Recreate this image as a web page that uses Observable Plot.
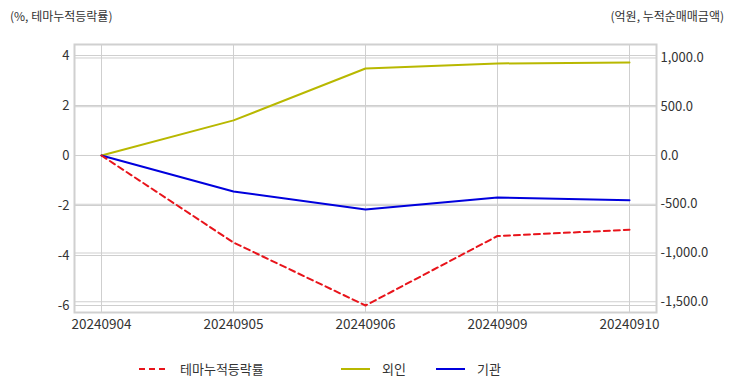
<!DOCTYPE html>
<html><head><meta charset="utf-8">
<script src="https://cdn.jsdelivr.net/npm/d3@7"></script>
<script src="https://cdn.jsdelivr.net/npm/@observablehq/plot@0.6"></script>
<style>
body{margin:0;background:#fff;font-family:"Noto Sans CJK KR","Noto Sans",sans-serif;color:#333;}
#wrap{position:relative;width:732px;height:392px;overflow:hidden;}
.ttl{position:absolute;top:6px;font-size:12px;color:#333;white-space:nowrap;line-height:20px;}
.leg{position:absolute;top:359px;font-size:13px;color:#333;white-space:nowrap;line-height:20px;display:flex;align-items:center;}
.leg svg{margin-right:12px;}
</style></head><body><div id="wrap"></div>
<script>
const dates = ["20240904","20240905","20240906","20240909","20240910"];
const themeRate = [0, -3.48, -6.0, -3.22, -2.97];      // % (left axis)
const foreign = [0, 360, 892, 944, 954];               // 억원 (right axis)
const inst = [0, -369, -554, -431, -460];              // 억원 (right axis)
const leftTicks = [-6, -4, -2, 0, 2, 4];
const rightTicks = [-1500, -1000, -500, 0, 500, 1000];
const seriesNames = ["테마누적등락률", "외인", "기관"];
const seriesColors = ["#e8141b", "#b8b800", "#0000dd"];
const leftTitle = "(%, 테마누적등락률)";
const rightTitle = "(억원, 누적순매매금액)";

const K = 256.4; // right-axis units per left-axis unit
const fmt = d3.formatLocale({decimal: ".", thousands: ",", grouping: [3], currency: ["", ""], minus: "-"}).format(",.1f");

const themeRows = dates.map((d, i) => ({d, v: themeRate[i]}));
const foreignRows = dates.map((d, i) => ({d, v: foreign[i] / K}));
const instRows = dates.map((d, i) => ({d, v: inst[i] / K}));

const chart = Plot.plot({
  width: 732, height: 392,
  marginTop: 44, marginBottom: 80, marginLeft: 74, marginRight: 76,
  x: {type: "point", domain: dates, padding: 0.2045},
  y: {domain: [-6.28, 4.44]},
  style: {fontFamily: '"Noto Sans CJK KR","Noto Sans",sans-serif', fontSize: "13px", color: "#333", background: "transparent"},
  marks: [
    Plot.gridX(dates, {stroke: "#cfcfcf", strokeOpacity: 1}),
    Plot.gridY(leftTicks, {stroke: "#cfcfcf", strokeOpacity: 1}),
    Plot.gridY(rightTicks.map(v => v / K), {stroke: "#cfcfcf", strokeOpacity: 1}),
    Plot.frame({stroke: "#d0d0d0", strokeWidth: 2}),
    Plot.axisY(leftTicks, {anchor: "left", tickSize: 0, tickPadding: 5, label: null, tickFormat: d => String(d)}),
    Plot.axisY(rightTicks.map(v => v / K), {anchor: "right", tickSize: 0, tickPadding: 4, label: null, tickFormat: d => fmt(Math.round(d * K))}),
    Plot.axisX(dates, {tickSize: 0, tickPadding: 7, label: null, fontSize: 13.5}),
    Plot.line(foreignRows, {x: "d", y: "v", stroke: seriesColors[1], strokeWidth: 2}),
    Plot.line(instRows, {x: "d", y: "v", stroke: seriesColors[2], strokeWidth: 2}),
    Plot.line(themeRows, {x: "d", y: "v", stroke: seriesColors[0], strokeWidth: 2, strokeDasharray: "6,4"})
  ]
});
const wrap = document.getElementById("wrap");
wrap.appendChild(chart);

function addTitle(text, style) {
  const el = document.createElement("div");
  el.className = "ttl";
  el.textContent = text;
  Object.assign(el.style, style);
  wrap.appendChild(el);
}
addTitle(leftTitle, {left: "10px"});
addTitle(rightTitle, {right: "8px"});

const legX = [139, 341, 436];
seriesNames.forEach((name, i) => {
  const item = document.createElement("div");
  item.className = "leg";
  item.style.left = legX[i] + "px";
  const dash = i === 0 ? ' stroke-dasharray="6,4"' : '';
  item.innerHTML = `<svg width="29" height="4"><line x1="0" x2="29" y1="2" y2="2" stroke="${seriesColors[i]}" stroke-width="2"${dash}/></svg>`;
  const span = document.createElement("span");
  span.textContent = name;
  item.appendChild(span);
  wrap.appendChild(item);
});
</script></body></html>
